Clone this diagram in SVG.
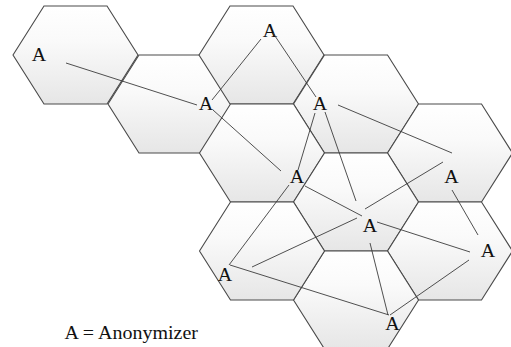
<svg xmlns="http://www.w3.org/2000/svg" xmlns:xlink="http://www.w3.org/1999/xlink" width="511" height="347" viewBox="0 0 511 347">
  <style>
    .cell { fill: url(#cellFill); stroke: #4a4a4a; stroke-width: 1.1; stroke-linejoin: miter; }
    text { font-family: 'Liberation Serif', 'DejaVu Serif', 'Times New Roman', serif; font-size: 20px; fill: #111; }
    .lbl { text-anchor: middle; }
    .link { stroke: #3c3c3c; stroke-width: 0.9; fill: none; stroke-linecap: butt; }
  </style>
  <defs>
    <linearGradient id="cellFill" x1="0" y1="0" x2="0" y2="1">
      <stop offset="0" stop-color="#ffffff"/>
      <stop offset="0.35" stop-color="#fafafa"/>
      <stop offset="1" stop-color="#e6e6e6"/>
    </linearGradient>
    <!-- flat-topped hexagon cell centred on the origin -->
    <path id="hex" d="M-62.5,0 L-31.5,-49 L31.5,-49 L62.5,0 L31.5,49 L-31.5,49 Z"/>
  </defs>

  <rect width="511" height="347" fill="#ffffff"/>

  <!-- cells, each with its anonymizer -->
  <g id="cell-1"><use xlink:href="#hex" class="cell" transform="translate(75.5,55)"/><text class="lbl" font-family="Liberation Serif, serif" transform="matrix(1 0 0 0.9 39 61)">A</text></g>
  <g id="cell-2"><use xlink:href="#hex" class="cell" transform="translate(170.5,104)"/><text class="lbl" font-family="Liberation Serif, serif" transform="matrix(1 0 0 0.9 206 110)">A</text></g>
  <g id="cell-3"><use xlink:href="#hex" class="cell" transform="translate(261.5,55)"/><text class="lbl" font-family="Liberation Serif, serif" transform="matrix(1 0 0 0.9 270 37)">A</text></g>
  <g id="cell-4"><use xlink:href="#hex" class="cell" transform="translate(356,104)"/><text class="lbl" font-family="Liberation Serif, serif" transform="matrix(1 0 0 0.9 320 110)">A</text></g>
  <g id="cell-5"><use xlink:href="#hex" class="cell" transform="translate(450,153)"/><text class="lbl" font-family="Liberation Serif, serif" transform="matrix(1 0 0 0.9 451.5 182.5)">A</text></g>
  <g id="cell-6"><use xlink:href="#hex" class="cell" transform="translate(262,153)"/><text class="lbl" font-family="Liberation Serif, serif" transform="matrix(1 0 0 0.9 297 182.5)">A</text></g>
  <g id="cell-7"><use xlink:href="#hex" class="cell" transform="translate(356,202)"/><text class="lbl" font-family="Liberation Serif, serif" transform="matrix(1 0 0 0.9 370 231.5)">A</text></g>
  <g id="cell-8"><use xlink:href="#hex" class="cell" transform="translate(450,251)"/><text class="lbl" font-family="Liberation Serif, serif" transform="matrix(1 0 0 0.9 488 256.5)">A</text></g>
  <g id="cell-9"><use xlink:href="#hex" class="cell" transform="translate(356,300)"/><text class="lbl" font-family="Liberation Serif, serif" transform="matrix(1 0 0 0.9 392.5 330)">A</text></g>
  <g id="cell-10"><use xlink:href="#hex" class="cell" transform="translate(262,251)"/><text class="lbl" font-family="Liberation Serif, serif" transform="matrix(1 0 0 0.9 225 280.5)">A</text></g>

  <!-- links between anonymizers -->
  <g id="links" class="link">
    <line x1="66" y1="63" x2="197" y2="105"/>
    <line x1="212" y1="100" x2="261" y2="39"/>
    <line x1="213" y1="110" x2="281" y2="171"/>
    <line x1="273" y1="33" x2="316" y2="97"/>
    <line x1="338" y1="105" x2="452" y2="153"/>
    <line x1="315" y1="113" x2="298" y2="170"/>
    <line x1="325" y1="112" x2="356" y2="201"/>
    <line x1="289" y1="185" x2="229" y2="265"/>
    <line x1="305" y1="186" x2="362" y2="216"/>
    <line x1="252" y1="267" x2="357" y2="218"/>
    <line x1="230" y1="265" x2="389" y2="315"/>
    <line x1="365" y1="209" x2="443" y2="162"/>
    <line x1="377" y1="222" x2="470" y2="252"/>
    <line x1="370" y1="243" x2="388" y2="315"/>
    <line x1="390" y1="315" x2="469" y2="260"/>
    <line x1="452" y1="190" x2="478" y2="235"/>
  </g>

  <text font-family="Liberation Serif, serif" transform="matrix(1 0 0 0.9 64.5 338.5)">A = Anonymizer</text>
</svg>
